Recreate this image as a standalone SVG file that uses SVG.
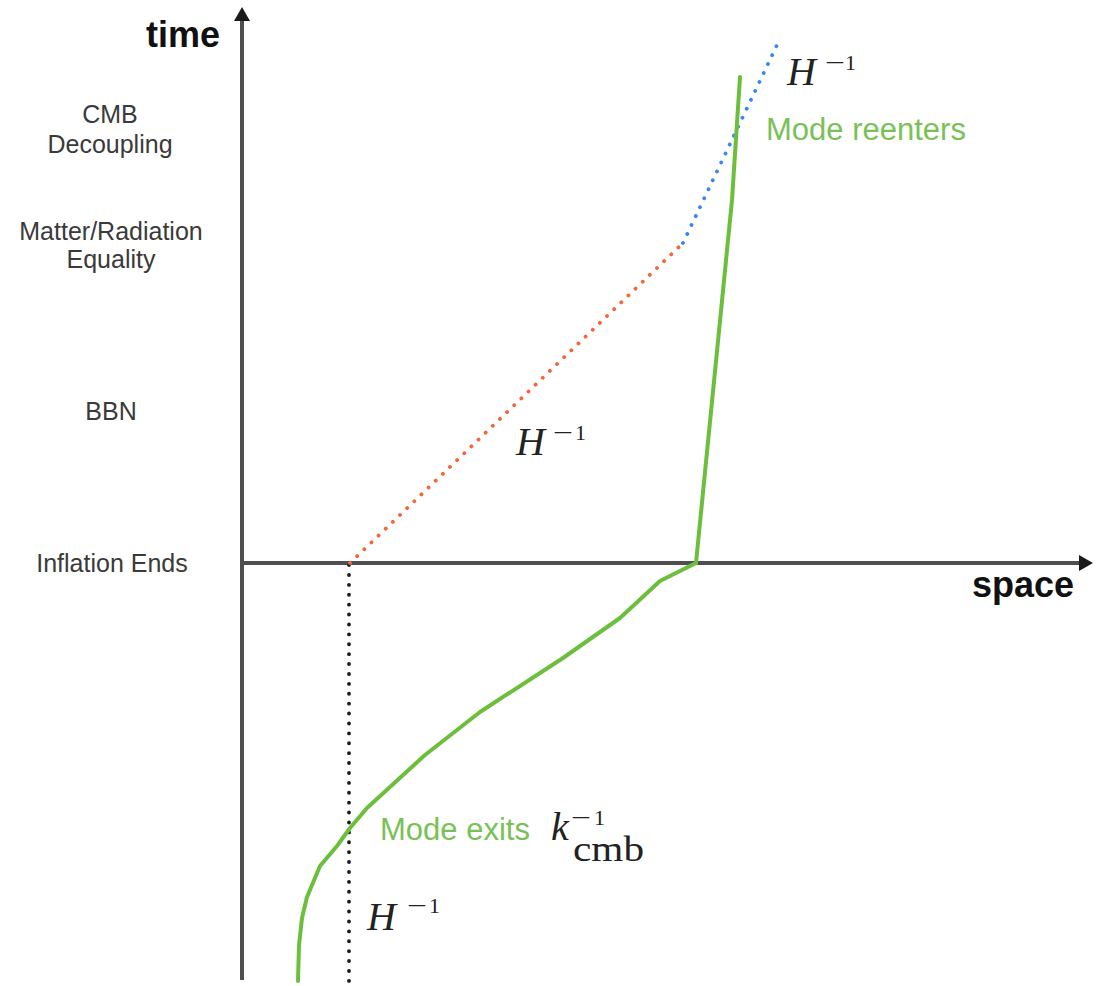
<svg xmlns="http://www.w3.org/2000/svg" width="1102" height="986" viewBox="0 0 1102 986">
<style>
.axis{stroke:#4f4f4f;stroke-width:4;fill:none}
.lbl{font-family:"Liberation Sans",Arial,sans-serif;font-size:25px;fill:#3a3a3a;text-anchor:middle}
.ax{font-family:"Liberation Sans",Arial,sans-serif;font-size:36px;font-weight:bold;fill:#111}
.grn{font-family:"Liberation Sans",Arial,sans-serif;font-size:31px;fill:#79c157}
.mi{font-family:"Liberation Serif","Times New Roman",serif;font-style:italic;font-size:40px;fill:#222}
.sup{font-family:"Liberation Serif","Times New Roman",serif;font-size:22px;fill:#222}
.rm{font-family:"Liberation Serif","Times New Roman",serif;font-size:36px;fill:#222}
.curve{stroke:#6cbf3c;stroke-width:4;fill:none;stroke-linejoin:round;stroke-linecap:round}
.dot{stroke-width:3.8;stroke-linecap:round;fill:none;stroke-dasharray:0.1 9.8}
</style>
<defs>
<marker id="ah" viewBox="0 0 14 16" refX="6" refY="8" markerWidth="14" markerHeight="16" markerUnits="userSpaceOnUse" orient="auto">
<path d="M0,0 L14,8 L0,16 z" fill="#1a1a1a"/>
</marker>
</defs>
<g id="axes">
<line class="axis" x1="242" y1="980" x2="242" y2="15" marker-end="url(#ah)"/>
<line class="axis" x1="240" y1="563" x2="1085" y2="563" marker-end="url(#ah)"/>
<text class="ax" x="220" y="47" text-anchor="end">time</text>
<text class="ax" x="972" y="597">space</text>
</g>
<g id="time-labels">
<text class="lbl" x="110" y="123">CMB</text>
<text class="lbl" x="110" y="153">Decoupling</text>
<text class="lbl" x="111" y="240">Matter/Radiation</text>
<text class="lbl" x="111" y="268">Equality</text>
<text class="lbl" x="111" y="420">BBN</text>
<text class="lbl" x="112" y="572">Inflation Ends</text>
</g>
<g id="connectors">
<line class="dot" x1="349" y1="565" x2="349" y2="982" stroke="#1a1a1a"/>
<line class="dot" x1="350" y1="563" x2="683" y2="243" stroke="#f7653a"/>
<line class="dot" x1="683" y1="243" x2="777" y2="45" stroke="#3b84f5"/>
<polyline class="curve" points="298,981 299,945 302,918 307,897 320,866 337,846 350,828 367,808 425,755 480,712 563,658 620,618 660,581 696,563"/>
<polyline class="curve" points="696,563 732,200 740,77"/>
</g>
<g id="h-top">
<text class="mi" x="787" y="85">H</text>
<text class="sup" x="825" y="70" textLength="20" lengthAdjust="spacingAndGlyphs">−</text>
<text class="sup" x="845" y="70">1</text>
</g>
<g id="mode-reenters">
<text class="grn" x="766" y="140">Mode reenters</text>
</g>
<g id="h-mid">
<text class="mi" x="516" y="455">H</text>
<text class="sup" x="553" y="440" textLength="20" lengthAdjust="spacingAndGlyphs">−</text>
<text class="sup" x="575" y="440">1</text>
</g>
<g id="mode-exits">
<text class="grn" x="380" y="840">Mode exits</text>
<text class="mi" x="551" y="840" font-size="34">k</text>
<text class="sup" x="571" y="825" textLength="20" lengthAdjust="spacingAndGlyphs">−</text>
<text class="sup" x="594" y="825">1</text>
<text class="rm" x="573" y="861" textLength="71" lengthAdjust="spacingAndGlyphs">cmb</text>
</g>
<g id="h-bottom">
<text class="mi" x="367" y="930">H</text>
<text class="sup" x="407" y="913" textLength="20" lengthAdjust="spacingAndGlyphs">−</text>
<text class="sup" x="429" y="913">1</text>
</g>
</svg>
